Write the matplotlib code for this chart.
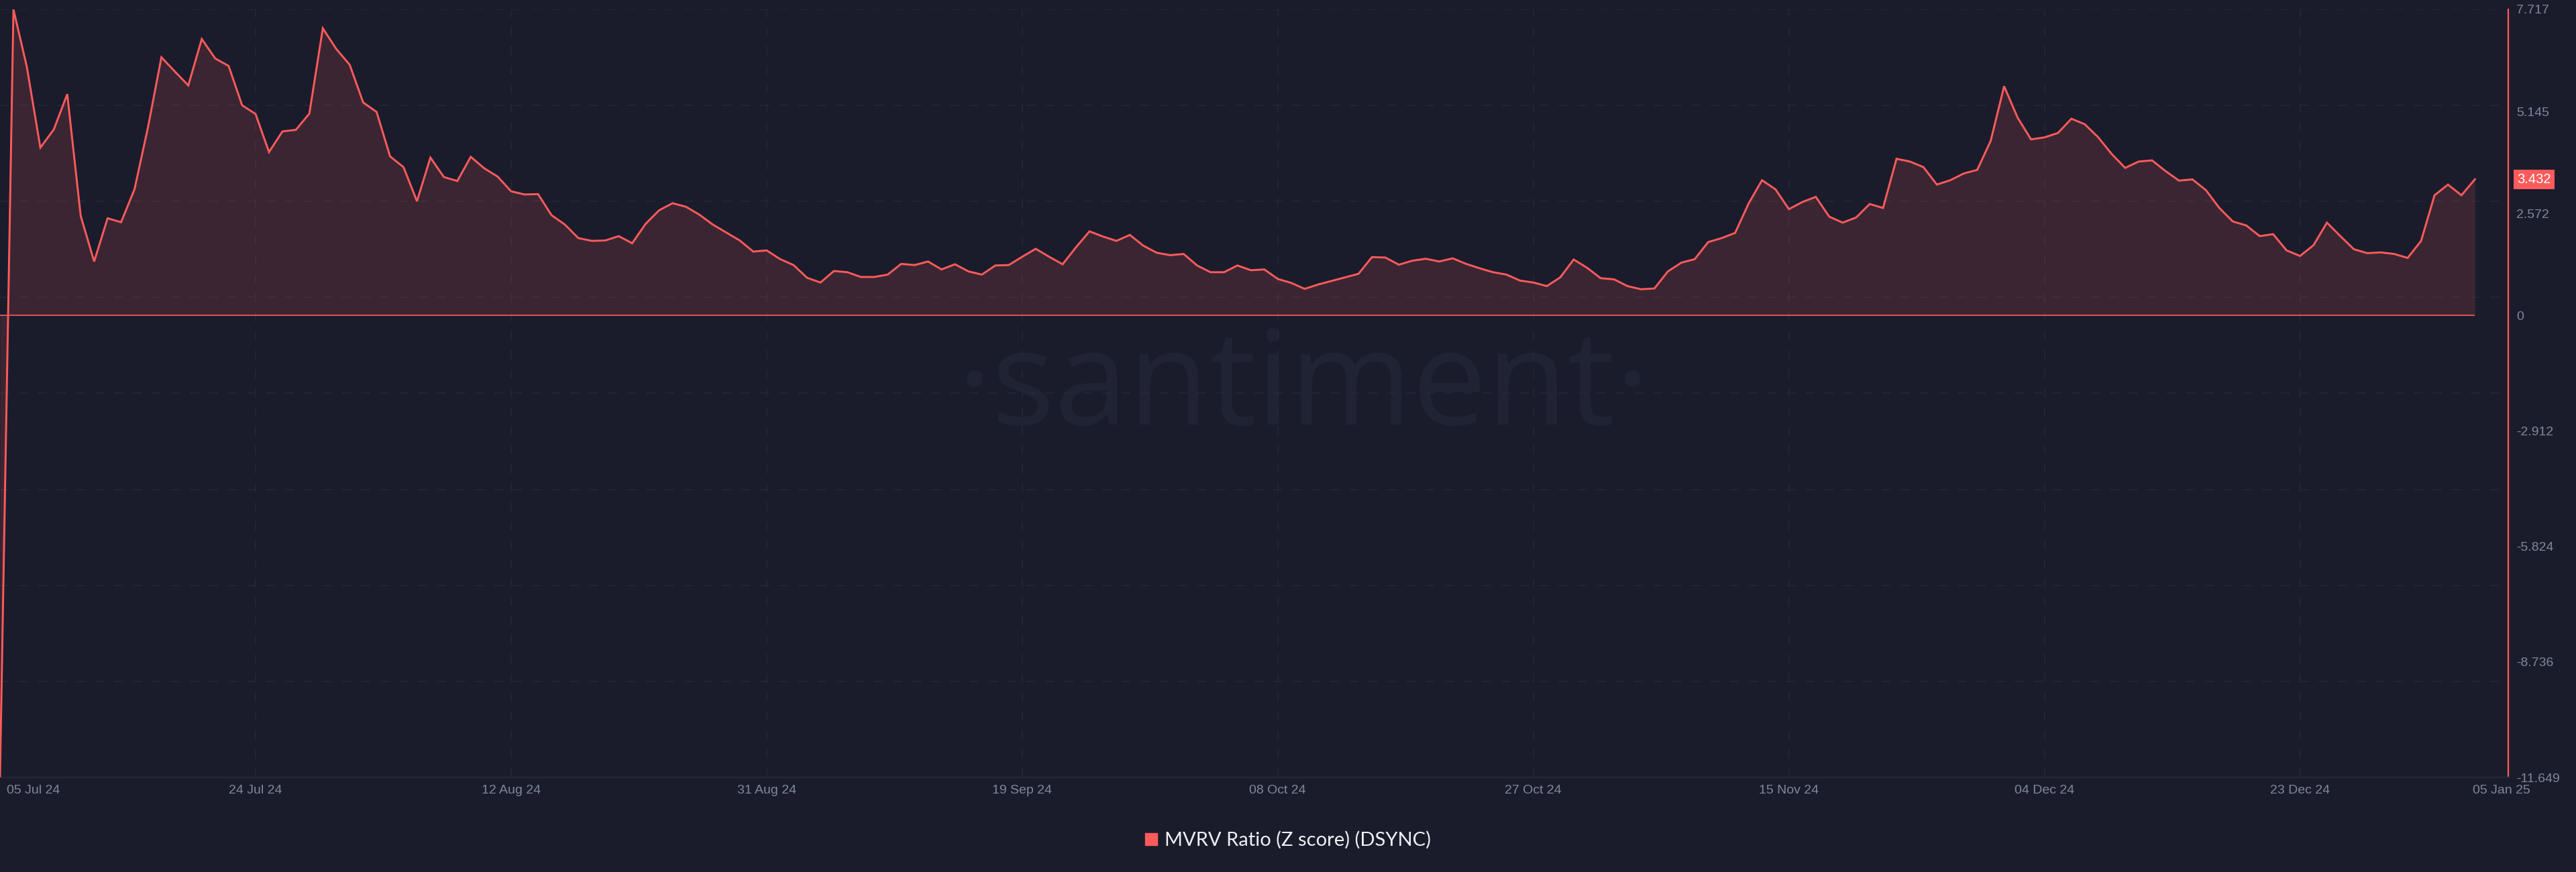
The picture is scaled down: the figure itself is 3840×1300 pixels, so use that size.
import numpy as np
import pandas as pd
import matplotlib
matplotlib.use("Agg")
import matplotlib.pyplot as plt
import matplotlib.dates as mdates
import matplotlib.font_manager as fm
from matplotlib.transforms import ScaledTranslation, blended_transform_factory
from matplotlib.patches import Rectangle

# ---------------- data ----------------
start_date = "2024-07-05"
mvrv_z = [
    -11.649, 7.717, 6.26, 4.23, 4.69, 5.58, 2.51, 1.36, 2.45, 2.35,
    3.18, 4.74, 6.51, 6.15, 5.80, 6.97, 6.48, 6.29, 5.30, 5.08,
    4.12, 4.64, 4.68, 5.09, 7.24, 6.72, 6.32, 5.37, 5.13, 4.01,
    3.74, 2.88, 3.98, 3.49, 3.39, 4.00, 3.71, 3.50, 3.13, 3.05,
    3.06, 2.53, 2.29, 1.95, 1.88, 1.89, 2.00, 1.82, 2.31, 2.65,
    2.83, 2.74, 2.54, 2.29, 2.09, 1.89, 1.61, 1.64, 1.42, 1.27,
    0.95, 0.83, 1.12, 1.09, 0.97, 0.97, 1.03, 1.30, 1.27, 1.36,
    1.16, 1.29, 1.11, 1.03, 1.26, 1.27, 1.48, 1.68, 1.48, 1.29,
    1.72, 2.12, 1.99, 1.88, 2.03, 1.76, 1.58, 1.52, 1.55, 1.26,
    1.09, 1.09, 1.26, 1.14, 1.16, 0.92, 0.82, 0.67, 0.78, 0.87,
    0.96, 1.05, 1.47, 1.46, 1.28, 1.38, 1.43, 1.36, 1.44, 1.30,
    1.19, 1.09, 1.03, 0.88, 0.83, 0.74, 0.96, 1.41, 1.20, 0.94,
    0.91, 0.74, 0.66, 0.68, 1.11, 1.33, 1.42, 1.85, 1.95, 2.08,
    2.82, 3.41, 3.18, 2.68, 2.86, 2.99, 2.49, 2.34, 2.47, 2.81,
    2.71, 3.95, 3.88, 3.74, 3.30, 3.41, 3.58, 3.67, 4.40, 5.78,
    4.99, 4.44, 4.49, 4.60, 4.96, 4.82, 4.49, 4.07, 3.72, 3.88,
    3.91, 3.64, 3.40, 3.43, 3.16, 2.71, 2.37, 2.27, 2.00, 2.05,
    1.64, 1.50, 1.77, 2.34, 2.00, 1.67, 1.57, 1.59, 1.55, 1.45,
    1.88, 3.03, 3.30, 3.03, 3.432,
]
xtick_labels = ["05 Jul 24", "24 Jul 24", "12 Aug 24", "31 Aug 24", "19 Sep 24",
                "08 Oct 24", "27 Oct 24", "15 Nov 24", "04 Dec 24", "23 Dec 24",
                "05 Jan 25"]
ytick_values = [7.717, 5.145, 2.572, 0, -2.912, -5.824, -8.736, -11.649]
ytick_labels = ["7.717", "5.145", "2.572", "0", "-2.912", "-5.824", "-8.736", "-11.649"]
series_name = "MVRV Ratio (Z score) (DSYNC)"
watermark_text = "·santiment·"

# ---------------- style ----------------
BG = "#1a1c2c"
RED = "#ff5b5b"
GRID = "#252838"
TXT = "#7f879b"
W, H = 3840, 1300

names = {f.name for f in fm.fontManager.ttflist}
tick_font = "Liberation Sans" if "Liberation Sans" in names else "DejaVu Sans"
legend_font = "Lato" if "Lato" in names else "DejaVu Sans"
if "Liberation Sans Narrow" in names:
    wm_font, wm_size = "Liberation Sans Narrow", 178
else:
    wm_font, wm_size = "Open Sans", 142

dates = pd.date_range(start_date, periods=len(mvrv_z), freq="D")
x = mdates.date2num(dates)
vals = np.array(mvrv_z)
xtick_dates = mdates.date2num(pd.to_datetime(xtick_labels, format="%d %b %y"))

fig = plt.figure(figsize=(W / 100, H / 100), dpi=100, facecolor=BG)
ax = fig.add_axes([0, 1 - 1159 / H, 3739 / W, 1145 / H])
ax.set_facecolor(BG)

ymin, ymax = min(ytick_values), max(ytick_values)
ax.set_ylim(ymin, ymax)
ax.set_xlim(x[0], x[0] + 186.48)

# watermark
ax.text(1943 / W, 1 - 633 / H, watermark_text, transform=fig.transFigure,
        ha="center", va="baseline", fontsize=wm_size, family=wm_font,
        color="#202334", zorder=0)

# grid
for gy in np.linspace(ymin, ymax, 9)[1:]:
    ax.axhline(gy, color=GRID, lw=1.2, dashes=(8, 9), zorder=0.5)
for td in xtick_dates[1:-1]:
    ax.axvline(td, color=GRID, lw=1.2, dashes=(8, 9), zorder=0.5)

# series
ax.fill_between(x, 0, vals, color=RED, alpha=0.15, lw=0, zorder=1)
ax.hlines(0, x[0], x[-1], color=RED, lw=1.2, zorder=2)
ax.plot(x, vals, color=RED, lw=2.1, zorder=3, solid_joinstyle="miter")

# spines
for s in ("top", "left"):
    ax.spines[s].set_visible(False)
ax.spines["bottom"].set_color(GRID)
ax.spines["bottom"].set_linewidth(1.6)
ax.spines["right"].set_color(RED)
ax.spines["right"].set_linewidth(1.6)

# y ticks (right)
ax.yaxis.tick_right()
ax.set_yticks(ytick_values)
ax.set_yticklabels(ytick_labels)
ax.tick_params(axis="y", length=0, pad=9, labelsize=14, labelcolor=TXT)
for lb in ax.get_yticklabels():
    lb.set_family(tick_font)

# x ticks
ax.set_xticks(xtick_dates)
ax.set_xticklabels(xtick_labels)
ax.tick_params(axis="x", length=0, pad=8, labelsize=14, labelcolor=TXT)
xl = ax.get_xticklabels()
for lb in xl:
    lb.set_family(tick_font)
xl[0].set_ha("left")
xl[0].set_transform(xl[0].get_transform() + ScaledTranslation(10 / 100, 0, fig.dpi_scale_trans))
xl[-1].set_ha("left")
xl[-1].set_transform(xl[-1].get_transform() + ScaledTranslation(-3 / 100, 0, fig.dpi_scale_trans))

# last value badge
bt = blended_transform_factory(ax.transAxes, ax.transData) + ScaledTranslation(13 / 100, 0, fig.dpi_scale_trans)
ax.text(1, vals[-1], f"{vals[-1]:.3f}", transform=bt, ha="left", va="center",
        fontsize=14.5, family=tick_font, color="white", clip_on=False, zorder=5,
        bbox=dict(boxstyle="square,pad=0.25", fc=RED, ec="none"))

# legend
fig.patches.append(Rectangle((1707 / W, 1 - 1260 / H), 18 / W, 18 / H,
                             transform=fig.transFigure, color=RED))
fig.text(1736 / W, 1 - 1252 / H, series_name, ha="left", va="center",
         fontsize=21, family=legend_font, color="#eef0f4")

fig.savefig("out.png", dpi=100, facecolor=BG)
